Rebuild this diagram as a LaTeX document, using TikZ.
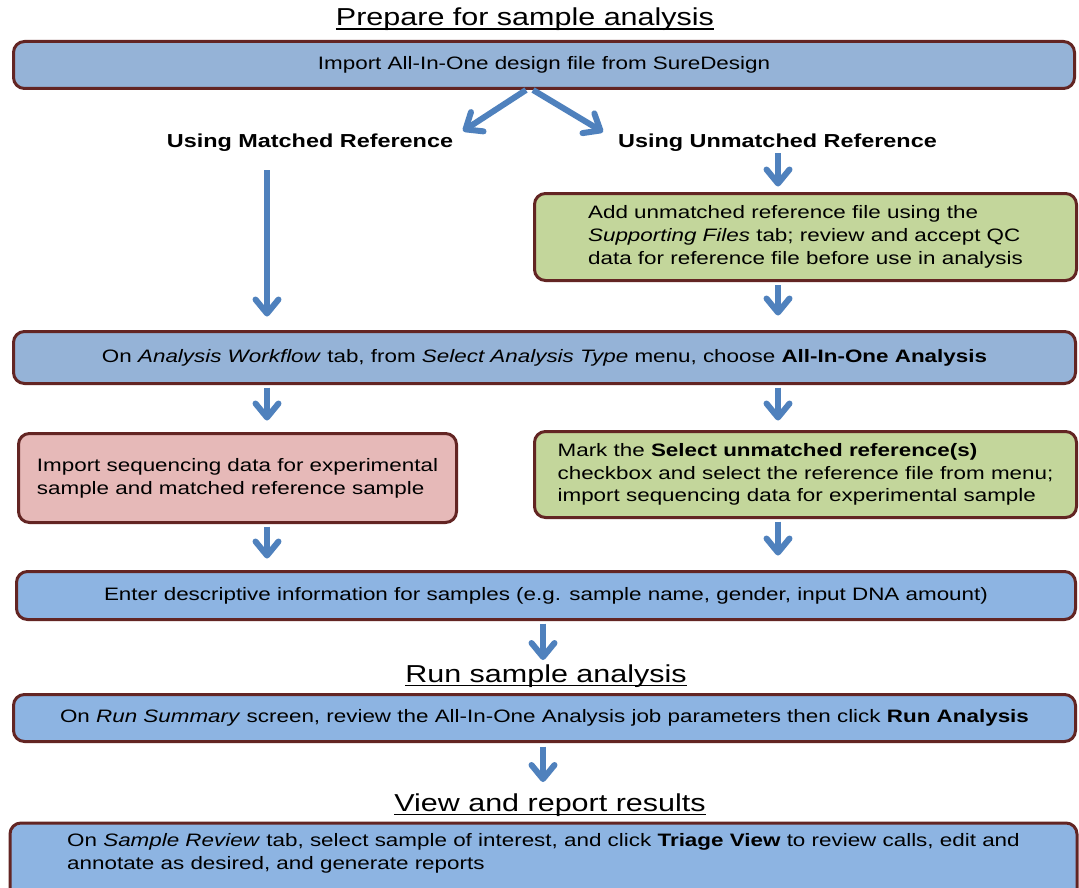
\documentclass[tikz,border=0pt]{standalone}
\usepackage{fontspec}
\setmainfont{Liberation Sans}[FakeStretch=1.245]
\usetikzlibrary{arrows.meta}
\definecolor{blueA}{HTML}{95B3D7}
\definecolor{blueB}{HTML}{8DB4E2}
\definecolor{greenA}{HTML}{C3D69B}
\definecolor{pinkA}{HTML}{E6B9B8}
\definecolor{edgeR}{HTML}{632523}
\definecolor{arrB}{HTML}{4F81BD}
\begin{document}
\begin{tikzpicture}[x=1pt,y=-1pt,
  box/.style={draw=edgeR, line width=3pt, rounded corners=11pt, inner sep=0pt, align=left, font=\fontsize{18}{22.8}\selectfont},
  txt/.style={inner sep=0pt, align=left, font=\fontsize{18}{22.8}\selectfont},
  lab/.style={inner sep=0pt, font=\fontsize{18.8}{22}\selectfont\bfseries, anchor=base},
  ttl/.style={inner sep=0pt, font=\fontsize{24.5}{30}\selectfont, anchor=base},
  uline/.style={line width=1.6pt},
  flow/.style={draw=arrB, line width=6pt, -{Straight Barb[length=14pt,width=23pt,round]}}
]
\useasboundingbox (0,0) rectangle (1079,888);
\clip (0,0) rectangle (1079,888);
\fill[white] (0,0) rectangle (1079,888);

% column coordinates
\coordinate (colL) at (267,0);
\coordinate (colR) at (778,0);
\coordinate (colM) at (543,0);
\coordinate (dL) at (526,0);
\coordinate (dR) at (533,0);
\coordinate (tipL) at (463,131);
\coordinate (tipR) at (603,132);

% titles
\node[ttl] (t1) at (525,26) {Prepare for sample analysis};
\draw[uline] ([yshift=-3pt]t1.base west) -- ([yshift=-3pt]t1.base east);
\node[ttl] (t2) at (546,682) {Run sample analysis};
\draw[uline] ([yshift=-3.5pt]t2.base west) -- ([yshift=-3.5pt]t2.base east);
\node[ttl] (t3) at (550,811) {View and report results};
\draw[uline] ([yshift=-3.5pt]t3.base west) -- ([yshift=-3.5pt]t3.base east);

% boxes
\node[box, fill=blueA, minimum width=1061pt, minimum height=47pt] (b1) at (544,65)
  {Import All-In-One design file from SureDesign};
\node[lab] (lab1) at (310,148) {Using Matched Reference};
\node[lab] (lab2) at (777.5,148) {Using Unmatched Reference};
\node[box, fill=greenA, minimum width=542pt, minimum height=87pt] (g1) at (805.5,237)
  {Add unmatched reference file using the\\ \textit{Supporting Files} tab; review and accept QC\\ data for reference file before use in analysis};
\node[box, fill=blueA, minimum width=1062pt, minimum height=52pt] (b2) at (544.5,357.5)
  {On \textit{Analysis Workflow} tab, from \textit{Select Analysis Type} menu, choose \textbf{All-In-One Analysis}};
\node[box, fill=pinkA, minimum width=438pt, minimum height=89pt] (p1) at (237.5,478)
  {Import sequencing data for experimental\\ sample and matched reference sample};
\node[box, fill=greenA, minimum width=542pt, minimum height=86pt] (g2) at (805.5,474.5)
  {Mark the \textbf{Select unmatched reference(s)}\\ checkbox and select the reference file from menu;\\ import sequencing data for experimental sample};
\node[box, fill=blueB, minimum width=1059pt, minimum height=48pt] (b3) at (546,595.5)
  {Enter descriptive information for samples (e.g. sample name, gender, input DNA amount)};
\node[box, fill=blueB, minimum width=1062pt, minimum height=47pt] (b4) at (544.5,718)
  {On \textit{Run Summary} screen, review the All-In-One Analysis job parameters then click \textbf{Run Analysis}};
\node[box, fill=blueB, minimum width=1067pt, minimum height=80pt, anchor=north] (b5) at (543.5,821.5) {};
\node[txt, anchor=north west] (b5t) at (67,833.5)
  {On \textit{Sample Review} tab, select sample of interest, and click \textbf{Triage View} to review calls, edit and\\ annotate as desired, and generate reports};

% connectors
\draw[flow] (b1.south -| dL) -- (tipL);
\draw[flow] (b1.south -| dR) -- (tipR);
\draw[flow, shorten <=18pt, shorten >=13.5pt] (lab1.south -| colL) -- (b2.north -| colL);
\draw[flow, shorten <=1pt, shorten >=5.5pt] (lab2.south -| colR) -- (g1.north -| colR);
\draw[flow, shorten <=3pt, shorten >=14.5pt] (g1.south -| colR) -- (b2.north -| colR);
\draw[flow, shorten <=2.5pt, shorten >=11.5pt] (b2.south -| colL) -- (p1.north -| colL);
\draw[flow, shorten <=2.5pt, shorten >=9.5pt] (b2.south -| colR) -- (g2.north -| colR);
\draw[flow, shorten <=2.5pt, shorten >=11.5pt] (p1.south -| colL) -- (b3.north -| colL);
\draw[flow, shorten <=2.5pt, shorten >=14.5pt] (g2.south -| colR) -- (b3.north -| colR);
\draw[flow, shorten <=2.5pt, shorten >=22pt] (b3.south -| colM) -- (t2.base -| colM);
\draw[flow, shorten <=3.5pt, shorten >=29pt] (b4.south -| colM) -- (t3.base -| colM);
\end{tikzpicture}
\end{document}
